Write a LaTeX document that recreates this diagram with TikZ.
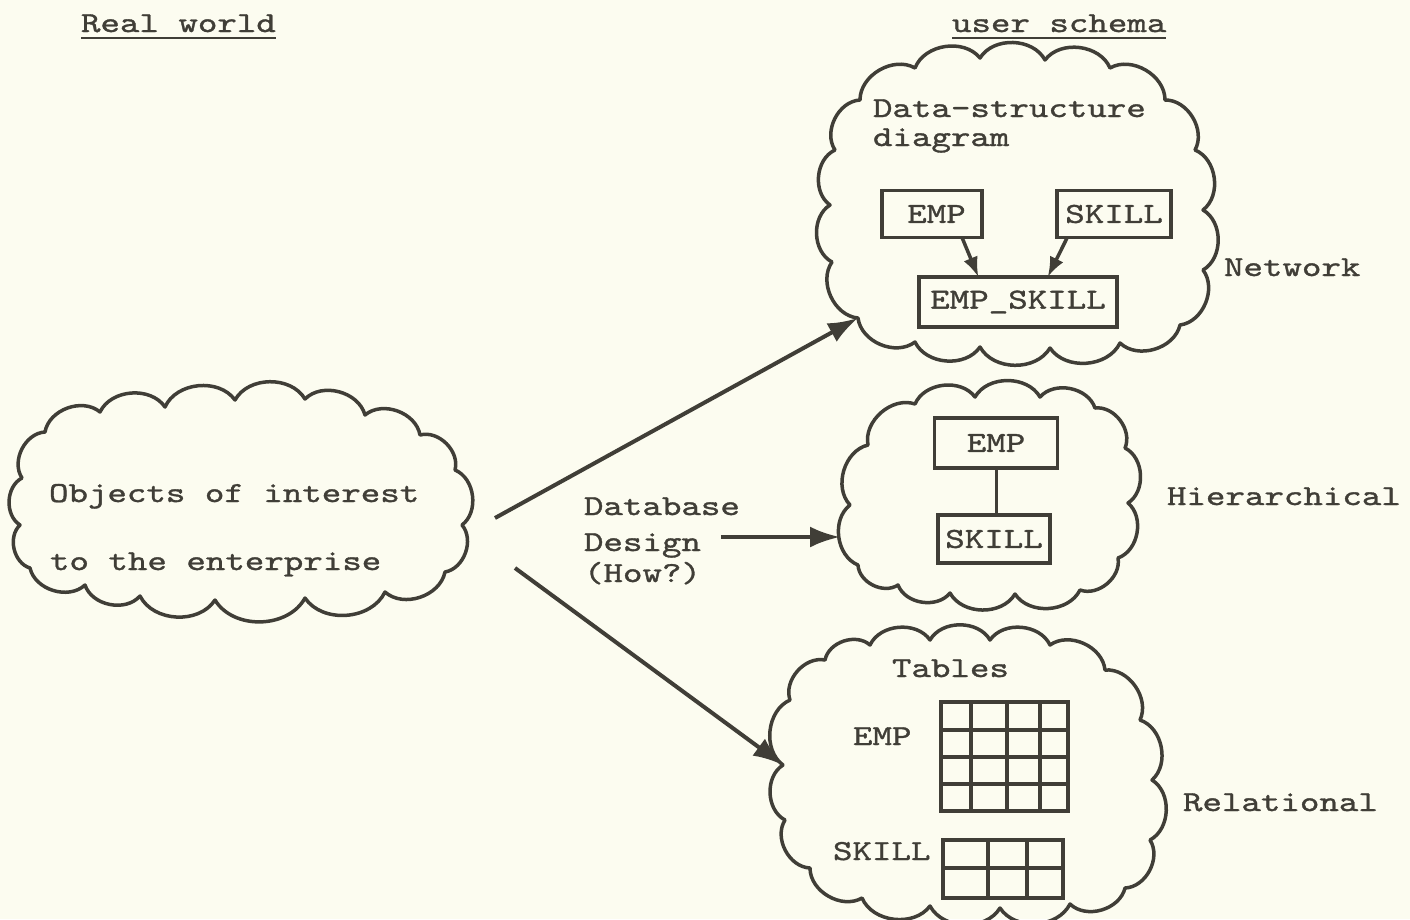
\documentclass[tikz,border=0pt]{standalone}
\usepackage{fontspec}
\newfontfamily\typewriter[FakeStretch=1.28,FakeBold=1.2]{lmmono10-regular.otf}
\usepackage{tikz}
\usetikzlibrary{shapes,arrows.meta,calc}
\definecolor{paper}{RGB}{252,252,240}
\definecolor{ink}{RGB}{64,62,55}

\begin{document}
\begin{tikzpicture}[x=1pt,y=-1pt]
      \tikzset{type/.style={inner sep=0pt,
          outer sep=0pt,
          anchor=base west,
          text=ink,
          font=\typewriter\fontsize{29}{30}\selectfont},
        puffline/.style={draw=ink, line width=3.5pt,
          line cap=round, line join=round},
        billow/.style={bend left=60},
        rec/.style={type, anchor=center, draw=ink, line width=3.5pt,
          minimum height=47pt},
        tabline/.style={draw=ink, line width=3.5pt},
        link/.style={draw=ink, line width=4pt,
          -{Latex[length=30pt,width=21pt]}},
        small link/.style={draw=ink, line width=3.5pt,
          -{Latex[length=20pt,width=15pt]}}
      }
      \fill [paper] (0,0) rectangle (1410,919);
      \useasboundingbox (0,0) rectangle (1410,919);
      % headings
      \node [type] (real) at (81,32) {Real world};
      \node [type] (user) at (952,32) {user schema};
      \draw [ink, line width=2.5pt] ($(real.base west)+(0,6)$) -- ($(real.base east)+(0,6)$);
      \draw [ink, line width=2.5pt] ($(user.base west)+(0,6)$) -- ($(user.base east)+(0,6)$);
      % real world cloud
      \draw [puffline] (22,478) \foreach \x/\y in {45/432,100/412,165/407,235/400,
          305/399,365/415,420/435,455/470,462/525,445/572,385/592,
          305/598,215/600,140/596,85/585,30/568,20/525,22/478} {to[billow] (\x,\y)};
      \node [type] (objA) at (49,502) {Objects of interest};
      \node [type] (objB) at (50,570) {to the enterprise};
      % network schema
      \draw [puffline] (858,318) \foreach \x/\y in {832/262,830/205,835/150,860/100,
          915/68,980/58,1045/60,1110/68,1165/100,1195/150,1203/210,
          1203/270,1180/325,1120/343,1050/348,980/347,915/342,858/318} {to[billow] (\x,\y)};
      \coordinate (netdock) at (858,318);
      \node [type] (dsdA) at (873,117) {Data-structure};
      \node [type] (dsdB) at (873,146) {diagram};
      \node [rec, minimum width=100pt] (nemp) at (932,214) {\hspace*{9pt}EMP};
      \node [rec, minimum width=114pt] (nskill) at (1114,214) {SKILL};
      \node [rec, minimum width=198pt, minimum height=50pt] (nlink) at (1018,302) {EMP\_SKILL};
      \draw [small link] ($(nemp.south west)!0.8!(nemp.south east)$) -- ($(nlink.north west)!0.3!(nlink.north east)$);
      \draw [small link] ($(nskill.south west)!0.09!(nskill.south east)$) -- ($(nlink.north west)!0.65!(nlink.north east)$);
      \node [type] (netlbl) at (1224,276) {Network};
      % hierarchical schema
      \draw [puffline] (858,565) \foreach \x/\y in {850/505,868/445,915/404,975/397,
          1040/397,1095/408,1125/448,1128/503,1118/558,1080/590,
          1015/594,950/593,898/585,858/565} {to[billow] (\x,\y)};
      \coordinate (hierdock) at (840,537);
      \node [rec, minimum width=123pt, minimum height=50pt] (hemp) at (996,443) {EMP};
      \node [rec, minimum width=112pt, minimum height=48pt] (hskill) at (994,539) {SKILL};
      \draw [ink, line width=3pt] (hemp.south) -- (hemp.south |- hskill.north);
      \node [type] (hierlbl) at (1167,505) {Hierarchical};
      % relational schema
      \draw [puffline] (783,765) \foreach \x/\y in {790/700,825/660,870/645,930/640,
          990/640,1050/645,1105/670,1140/720,1152/780,1150/840,1125/888,
          1070/904,1000/908,930/906,862/898,810/868,785/820,783/765} {to[billow] (\x,\y)};
      \coordinate (reldock) at (783,765);
      \node [type] (tables) at (892,677) {Tables};
      \node [type] (remp) at (853,745) {EMP};
      \node [type] (rskill) at (833,860) {SKILL};
      \draw [tabline] (941,702) rectangle (1068,811);
      \foreach \cx in {971,1007,1040} \draw [tabline] (\cx,702) -- (\cx,811);
      \foreach \cy in {730,757,784} \draw [tabline] (941,\cy) -- (1068,\cy);
      \draw [tabline] (943,840) rectangle (1063,898);
      \foreach \cx in {988,1027} \draw [tabline] (\cx,840) -- (\cx,898);
      \draw [tabline] (943,868) -- (1063,868);
      \node [type] (rellbl) at (1183,811) {Relational};
      % design arrows
      \node [type] (dbA) at (584,515) {Database};
      \node [type] (dbB) at (584,551) {Design};
      \node [type] (dbC) at (584,582) {(How?)};
      \coordinate (forkA) at (495,518);
      \coordinate (forkB) at (515,568);
      \coordinate (dbtail) at ($(dbB.base east)+(20,-14)$);
      \draw [link] (forkA) -- (netdock);
      \draw [link] (forkB) -- (reldock);
      \draw [link] (dbtail) -- (dbtail -| hierdock);
    \end{tikzpicture}
\end{document}
